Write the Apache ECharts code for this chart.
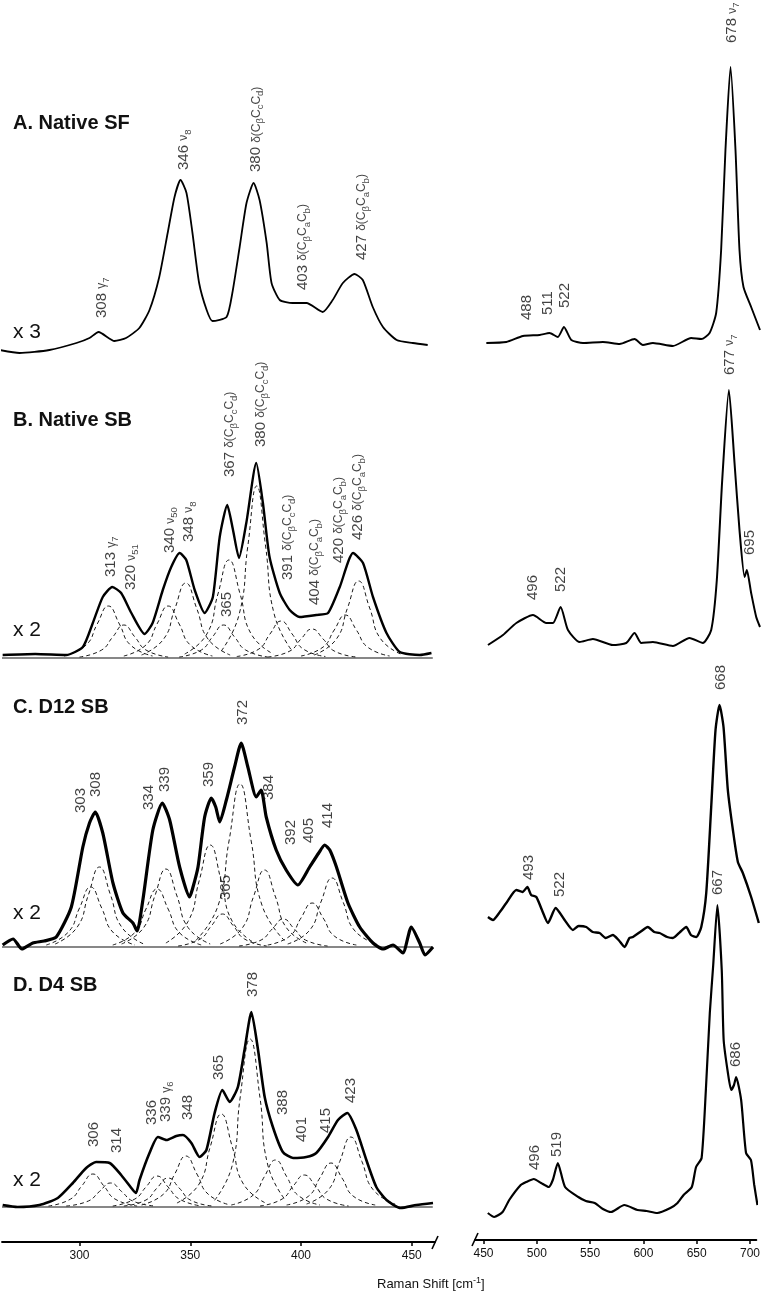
<!DOCTYPE html>
<html><head><meta charset="utf-8">
<script src="https://cdn.jsdelivr.net/npm/echarts@6/dist/echarts.min.js"></script>
<style>html,body{margin:0;padding:0;background:#fff}#c{width:763px;height:1291px}</style>
</head><body><div id="c"></div><script>
// ---------- axes ----------
const leftRange = [265, 460.5];
const rightRange = [442, 706];
const leftTicks = [300, 350, 400, 450];
const rightTicks = [450, 500, 550, 600, 650, 700];
const axisTitle = 'Raman Shift [cm';
const panelTitles = ['A. Native SF', 'B. Native SB', 'C. D12 SB', 'D. D4 SB'];
const multipliers = ['x 3', 'x 2', 'x 2', 'x 2'];

// ---------- spectra [shift, intensity(a.u.)] ----------
const specA_left = [[264,0],[272.9,-3],[286.4,0],[298.6,7],[304.5,12],[308.6,18],[315.8,9],[321,12],[327,22],[331.6,40],[336,73],[339.8,117],[342.9,153],[345.6,170],[348.3,157],[351,117],[354,67],[357.4,40],[360,29],[366.4,33],[369,57],[372.3,103],[375.4,147],[378.6,167],[381.3,150],[384.5,107],[386.7,67],[390.4,50],[396.2,47],[402.5,47],[409.8,38],[414.3,50],[418.9,67],[424.2,76],[427.9,70],[432.4,43],[437,23],[443.2,10],[450.5,7],[457.2,5]];
const specA_right = [[452.5,0],[471,1],[486.4,7],[501.9,8],[511,10],[518.8,6],[524.4,16],[531.2,3],[542,0],[560.5,1],[576,-1],[589.8,4],[597.5,-2],[606.8,0],[625.3,-3],[642.3,5],[651.6,4],[659.3,10],[665.4,30],[670,93],[674,193],[678.7,276],[683.3,193],[687,93],[690.7,56],[697.8,36],[706,13]];
const specB_left = [[265.3,0],[280,1],[294,0],[301.5,8],[306,32],[310.5,58],[314.8,68],[318.8,62],[323.4,42],[329.4,21],[333,32],[337.6,65],[341.4,88],[345.2,102],[348.2,95],[352,65],[356.5,42],[360.2,58],[363.3,118],[366.7,150],[369.3,125],[372,97],[375.3,132],[379.8,192],[382.8,152],[385.8,98],[390.4,62],[394.9,45],[399.4,38],[406.9,40],[412.2,42],[417.5,68],[423.5,102],[428,92],[432.5,58],[438.6,22],[444.6,3],[453.6,0],[458.9,2]];
const specB_right = [[454,0],[467.9,10],[480.3,22],[495.7,30],[508,22],[514.2,22],[521.3,38],[528.1,15],[538.9,3],[551.2,6],[569.7,0],[582.1,2],[589.8,12],[596,2],[606.8,3],[625.3,-1],[640.7,7],[653,2],[660.8,15],[666,65],[671,165],[677.2,255],[682.4,182],[687,115],[691.7,68],[693.8,75],[697.8,52],[702.5,28],[706,18]];
const specC_left = [[265.3,0],[270,6],[274,-4],[278.9,2],[284,4],[289.5,8],[296.3,38],[301.5,98],[304.5,122],[307.1,133],[310.5,112],[315.1,62],[319.6,32],[324.1,22],[326,14],[328.6,45],[333.1,115],[337.4,142],[340.7,125],[345.2,78],[349.7,48],[351,56],[353.5,78],[356.5,128],[359.5,147],[361.5,138],[363.3,123],[366.3,145],[370,178],[373,202],[376,178],[379.8,148],[382,155],[384.3,128],[388.8,95],[393.3,75],[398.6,60],[403.9,78],[408,92],[410.7,100],[413,95],[416,78],[421.2,42],[426.5,18],[432.5,2],[437,-4],[441.5,0],[446,-8],[449.8,18],[453.6,2],[456,-10],[459.6,-2]];
const specC_right = [[454,23],[458.6,20],[465,28],[471,37],[480.3,50],[486,48],[490.5,53],[494,45],[498.8,43],[504,30],[509.6,17],[516.7,32],[525,20],[532.7,10],[538,14],[545.1,13],[551,8],[557.4,7],[563,2],[569.7,5],[575,0],[580.6,-7],[585,2],[588.3,3],[595,8],[602.1,13],[608,8],[613,7],[620,3],[625.3,2],[632,8],[637.7,13],[642,5],[647,3],[651.6,13],[656.2,47],[660.8,133],[664.8,210],[668.5,235],[672.2,213],[676.2,150],[680.9,110],[685.5,78],[690.1,67],[697.8,43],[704.9,17]];
const specD_left = [[265.3,0],[272,-2],[281.9,0],[290.2,7],[297,22],[303,37],[307.5,43],[313.6,42],[318.8,30],[324.1,15],[325.5,12],[327.1,25],[331.6,52],[335.4,68],[339.2,65],[343.7,69],[346.7,70],[350.5,62],[354.2,48],[357.3,55],[361,92],[364.5,115],[367.8,103],[371.5,118],[374.5,155],[377.6,193],[380.6,155],[383.6,108],[387.3,78],[391.8,53],[396.4,47],[402.4,48],[406.9,52],[412.2,68],[416.7,85],[420.9,92],[425,75],[429.5,45],[434,18],[438.6,5],[445,-3],[452.1,0],[459.6,2]];
const specD_right = [[454,2],[460,-2],[467.9,3],[474.1,15],[484.9,30],[490,33],[497.2,36],[504,32],[511.1,28],[515,35],[519.7,52],[526.5,28],[538.9,18],[546,14],[554.3,12],[562,6],[569.7,3],[582.1,10],[594.4,5],[603,4],[613,2],[625.3,7],[632,12],[637.7,20],[645.4,28],[649.4,48],[654.6,57],[658.6,125],[662.3,202],[665.5,250],[669.4,310],[673.5,245],[675.3,175],[679.3,142],[682.4,125],[685,130],[687,138],[691.7,115],[696.3,62],[700.9,55],[704,30],[707,10]];

// ---------- fitted component bands (dashed) ----------
const compB = [
 [[293,-1],[303,10],[308,31],[313,49],[318,31],[323,10],[333,-1]],
 [[300,-2],[310,5],[315,18],[320,30],[325,18],[330,5],[340,-2]],
 [[320,-1],[330,10],[335,31],[340,49],[345,31],[350,10],[360,-1]],
 [[328,0],[338,16],[343,46],[348,72],[353,46],[358,16],[368,0]],
 [[345,-2],[355,5],[360,18],[365,30],[370,18],[375,5],[385,-2]],
 [[347.5,1],[357.5,21],[362.5,61],[367.5,95],[372.5,61],[377.5,21],[387.5,1]],
 [[364,4],[372,40],[376,109],[380,169],[384,109],[388,40],[396,4]],
 [[371,-1.5],[381,6],[386,21],[391,34],[396,21],[401,6],[411,-1.5]],
 [[385,-2],[395,4],[400,16],[405,26],[410,16],[415,4],[425,-2]],
 [[400,-1],[410,8],[415,25],[420,40],[425,25],[430,8],[440,-1]],
 [[406,0],[416,16],[421,47],[426,74],[431,47],[436,16],[446,0]]
];
const compC = [
 [[285,0],[295,13],[300,37],[305,58],[310,37],[315,13],[325,0]],
 [[289,1],[299,18],[304,50],[309,78],[314,50],[319,18],[329,1]],
 [[315,0],[325,12.5],[330,36],[335,56],[340,36],[345,12.5],[355,0]],
 [[319,1],[329,17.5],[334,49],[339,76],[344,49],[349,17.5],[359,1]],
 [[339,2],[349,23.5],[354,64],[359,100],[364,64],[369,23.5],[379,2]],
 [[344.5,-1],[354.5,6],[359.5,19],[364.5,31],[369.5,19],[374.5,6],[384.5,-1]],
 [[352.5,4.5],[362.5,39],[367.5,104],[372.5,161],[377.5,104],[382.5,39],[392.5,4.5]],
 [[363.5,1],[373.5,17],[378.5,48],[383.5,75],[388.5,48],[393.5,17],[403.5,1]],
 [[372,-1],[382,5],[387,16],[392,26],[397,16],[402,5],[412,-1]],
 [[385,0],[395,9],[400,27],[405,42],[410,27],[415,9],[425,0]],
 [[394,1],[404,15],[409,43],[414,67],[419,43],[424,15],[434,1]]
];
const compD = [
 [[286,-1],[296,6],[301,19],[306,31],[311,19],[316,6],[326,-1]],
 [[294,-1],[304,4],[309,13.5],[314,22],[319,13.5],[324,4],[334,-1]],
 [[315,-1],[325,6],[330,18],[335,29],[340,18],[345,6],[355,-1]],
 [[320,-1],[330,5],[335,17],[340,27],[345,17],[350,5],[360,-1]],
 [[328,0],[338,11],[343,31],[348,49],[353,31],[358,11],[368,0]],
 [[344,2],[354,21],[359,58],[364,91],[369,58],[374,21],[384,2]],
 [[361,4.7],[369,40],[372.5,107],[377,166],[381.5,107],[385,40],[393,4.7]],
 [[368.5,0],[378.5,10],[383.5,28.5],[388.5,45],[393.5,28.5],[398.5,10],[408.5,0]],
 [[381.5,-1],[391.5,6],[396.5,19],[401.5,30],[406.5,19],[411.5,6],[421.5,-1]],
 [[393.5,0],[403.5,9],[408.5,27],[413.5,42],[418.5,27],[423.5,9],[433.5,0]],
 [[402.5,1],[412.5,15.5],[417.5,43.5],[422.5,68],[427.5,43.5],[432.5,15.5],[442.5,1]]
];
const compBase = [null, -3, -2, -2];

// ---------- peak annotations [shift, anchor intensity, number, assignment] ----------
const labA_left = [[309.9,32,'308','γ_7'],[347,180,'346','ν_8'],[379.8,178,'380','δ(C_βC_cC_d)'],[400.8,60,'403','δ(C_βC_aC_b)'],[427.4,90,'427','δ(C_βC_aC_b)']];
const labA_right = [[490,23,'488',''],[509.6,28,'511',''],[525,35,'522',''],[680.3,300,'678','ν_7']];
const labB_left = [[314.3,78,'313','γ_7'],[323.4,65,'320','ν_{51}'],[341,102,'340','ν_{50}'],[349.4,113,'348','ν_8'],[366.3,38,'365',''],[367.8,178,'367','δ(C_βC_cC_d)'],[381.9,208,'380','δ(C_βC_cC_d)'],[394.1,75,'391','δ(C_βC_cC_d)'],[406.2,50,'404','δ(C_βC_aC_b)'],[417.1,92,'420','δ(C_βC_aC_b)'],[425.7,115,'426','δ(C_βC_aC_b)']];
const labB_right = [[495.7,45,'496',''],[521.9,53,'522',''],[677.8,270,'677','ν_7'],[696.3,90,'695','']];
const labC_left = [[300.5,132,'303',''],[307.5,148,'308',''],[331.3,135,'334',''],[338.7,153,'339',''],[358.4,158,'359',''],[366,45,'365',''],[373.8,220,'372',''],[385.5,145,'384',''],[395.2,100,'392',''],[403.6,102,'405',''],[412.2,117,'414','']];
const labC_right = [[491.9,60,'493',''],[521,43,'522',''],[669.4,250,'668','']];
const labD_left = [[306.5,58,'306',''],[316.9,52,'314',''],[332.8,80,'336',''],[339.2,83,'339','γ_6'],[348.9,85,'348',''],[362.9,125,'365',''],[378.3,208,'378',''],[391.6,90,'388',''],[400.2,63,'401',''],[411.4,72,'415',''],[422.7,102,'423','']];
const labD_right = [[497.8,45,'496',''],[518.8,58,'519',''],[670,320,'667',''],[687,148,'686','']];

// ---------- layout (pixels) ----------
const leftBase = [350, 655, 945, 1205];
const rightBase = [343, 645, 940, 1215];
const axisYLeft = 1242, axisYRight = 1240;
const TOPSPAN = 330;
const FONT = 'Liberation Sans, Arial, sans-serif';

const panels = [
  {L: specA_left, R: specA_right, comps: null, labL: labA_left, labR: labA_right, lw: 1.8, rw: 1.9},
  {L: specB_left, R: specB_right, comps: compB, labL: labB_left, labR: labB_right, lw: 2.4, rw: 2.0},
  {L: specC_left, R: specC_right, comps: compC, labL: labC_left, labR: labC_right, lw: 3.2, rw: 2.4},
  {L: specD_left, R: specD_right, comps: compD, labL: labD_left, labR: labD_right, lw: 2.6, rw: 2.2}
];

function richText(num, tag) {
  let s = '{n|' + num + '}';
  if (!tag) return s;
  s += '{n| }';
  let buf = '';
  for (let i = 0; i < tag.length; i++) {
    const ch = tag[i];
    if (ch === '_') {
      if (buf) { s += '{g|' + buf + '}'; buf = ''; }
      let sub;
      if (tag[i + 1] === '{') { const j = tag.indexOf('}', i); sub = tag.slice(i + 2, j); i = j; }
      else { sub = tag[i + 1]; i++; }
      s += '{b|' + sub + '}';
    } else buf += ch;
  }
  if (buf) s += '{g|' + buf + '}';
  return s;
}
const richStyles = {
  n: {fontSize: 15, fontFamily: FONT, color: '#111', lineHeight: 19},
  g: {fontSize: 12, fontFamily: FONT, color: '#111', lineHeight: 19},
  b: {fontSize: 9.5, fontFamily: FONT, color: '#111', lineHeight: 10, verticalAlign: 'bottom'}
};

const grids = [], xAxes = [], yAxes = [], series = [];
panels.forEach((p, i) => {
  ['L', 'R'].forEach(side => {
    const gi = grids.length;
    const base = side === 'L' ? leftBase[i] : rightBase[i];
    const bottomRow = i === 3;
    const yMin = bottomRow ? -((side === 'L' ? axisYLeft : axisYRight) - base) : -30;
    grids.push(side === 'L'
      ? {left: 2, width: 433, top: base - TOPSPAN, height: TOPSPAN - yMin}
      : {left: 475, width: 285, top: base - TOPSPAN, height: TOPSPAN - yMin});
    const ticks = side === 'L' ? leftTicks : rightTicks;
    const range = side === 'L' ? leftRange : rightRange;
    xAxes.push({
      gridIndex: gi, type: 'value', min: range[0], max: range[1], show: bottomRow, position: 'bottom',
      axisLine: {show: true, onZero: false, lineStyle: {color: '#000', width: 1.8}},
      axisTick: {show: true, customValues: ticks, length: 4, lineStyle: {color: '#000', width: 1.5}},
      axisLabel: {show: true, customValues: ticks, fontSize: 12, fontFamily: FONT, color: '#111', margin: 8},
      splitLine: {show: false}
    });
    yAxes.push({gridIndex: gi, type: 'value', min: yMin, max: TOPSPAN, show: false, splitLine: {show: false}});
    if (side === 'L' && p.comps) {
      p.comps.forEach(c => series.push({
        type: 'line', xAxisIndex: gi, yAxisIndex: gi, data: c, smooth: 0.5, symbol: 'none', silent: true, clip: false,
        lineStyle: {color: '#1a1a1a', width: 1, type: [4, 3]}, z: 2
      }));
      series.push({
        type: 'line', xAxisIndex: gi, yAxisIndex: gi, data: [[range[0], compBase[i]], [range[1] - 1, compBase[i]]],
        symbol: 'none', silent: true, clip: false, lineStyle: {color: '#111', width: 1.2}, z: 2
      });
    }
    series.push({
      type: 'line', xAxisIndex: gi, yAxisIndex: gi, data: side === 'L' ? p.L : p.R, smooth: 0.2,
      symbol: 'none', silent: true, clip: false,
      lineStyle: {color: '#000', width: side === 'L' ? p.lw : p.rw}, z: 3
    });
    const labs = side === 'L' ? p.labL : p.labR;
    series.push({
      type: 'scatter', xAxisIndex: gi, yAxisIndex: gi, symbolSize: 0, silent: true, clip: false, z: 5,
      data: labs.map(l => ({value: [l[0], l[1]], label: {formatter: richText(l[2], l[3])}})),
      label: {show: true, position: 'inside', rotate: 90, align: 'left', verticalAlign: 'middle', distance: 0, rich: richStyles}
    });
  });
});

const graphics = [];
const titleY = [123, 420, 707, 985];
const multY = [332, 630, 913, 1180];
panelTitles.forEach((t, i) => {
  graphics.push({type: 'text', x: 13, y: titleY[i], style: {text: t, font: 'bold 20px ' + FONT, fill: '#111', textVerticalAlign: 'middle', verticalAlign: 'middle'}});
  graphics.push({type: 'text', x: 13, y: multY[i], style: {text: multipliers[i], font: '21px ' + FONT, fill: '#111', textVerticalAlign: 'middle', verticalAlign: 'middle'}});
});
graphics.push({type: 'text', x: 377, y: 1284, style: {text: '{a|' + axisTitle + '}{s|-1}{a|]}', rich: {a: {fontSize: 13, fontFamily: FONT, fill: '#111', color: '#111', lineHeight: 15}, s: {fontSize: 9, fontFamily: FONT, fill: '#111', color: '#111', verticalAlign: 'top', lineHeight: 9}}, textVerticalAlign: 'middle', verticalAlign: 'middle'}});
graphics.push({type: 'line', shape: {x1: 432, y1: 1249, x2: 438, y2: 1236}, style: {stroke: '#000', lineWidth: 1.6}});
graphics.push({type: 'line', shape: {x1: 472, y1: 1246, x2: 478, y2: 1233}, style: {stroke: '#000', lineWidth: 1.6}});

const chart = echarts.init(document.getElementById('c'), null, {renderer: 'canvas'});
chart.setOption({
  animation: false,
  backgroundColor: '#fff',
  grid: grids, xAxis: xAxes, yAxis: yAxes, series: series, graphic: graphics
});
</script></body></html>
